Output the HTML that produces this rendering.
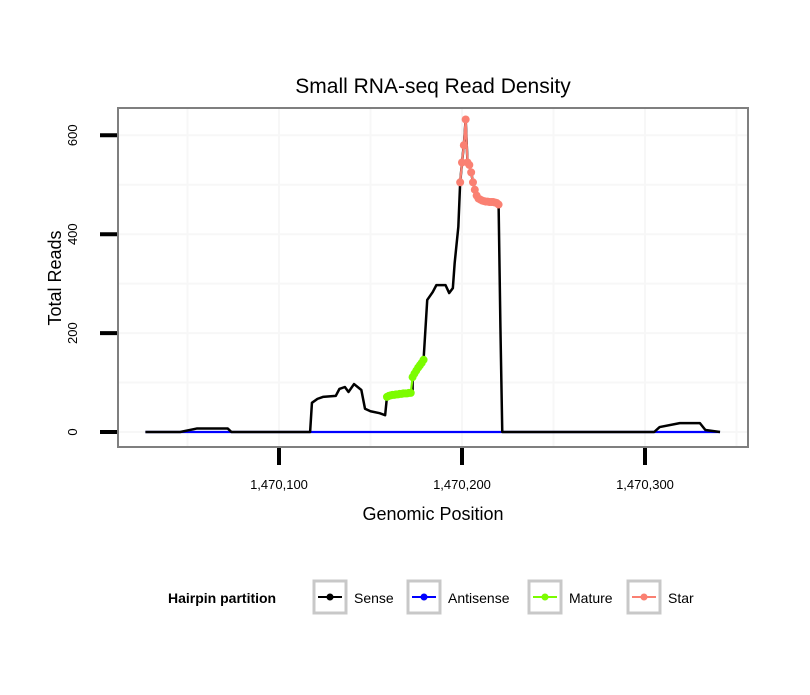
<!DOCTYPE html>
<html><head><meta charset="utf-8"><style>
body{margin:0;background:#fff;font-family:"Liberation Sans",sans-serif}
</style></head><body>
<svg width="810" height="690" xmlns="http://www.w3.org/2000/svg" font-family="Liberation Sans, sans-serif">
<rect width="810" height="690" fill="#fff"/>
<text x="433" y="93" font-size="21" text-anchor="middle">Small RNA-seq Read Density</text>
<g id="grid"></g>
<g id="marks"></g>
<rect x="118" y="108" width="630" height="339" fill="none" stroke="#7f7f7f" stroke-width="2"/>
<g id="axes"></g>
<text x="433" y="520" font-size="18" text-anchor="middle">Genomic Position</text>
<text transform="translate(61,278) rotate(-90)" font-size="18" text-anchor="middle">Total Reads</text>
<g font-size="14">
<text x="168" y="603" font-weight="bold">Hairpin partition</text>
<g><rect x="314" y="581" width="32" height="32" fill="#fff" stroke="#c8c8c8" stroke-width="3"/><line x1="318" y1="597" x2="342" y2="597" stroke="#000" stroke-width="2"/><circle cx="330" cy="597" r="3.5" fill="#000"/><text x="354" y="603">Sense</text></g>
<g><rect x="408" y="581" width="32" height="32" fill="#fff" stroke="#c8c8c8" stroke-width="3"/><line x1="412" y1="597" x2="436" y2="597" stroke="#0000ff" stroke-width="2"/><circle cx="424" cy="597" r="3.5" fill="#0000ff"/><text x="448" y="603">Antisense</text></g>
<g><rect x="529" y="581" width="32" height="32" fill="#fff" stroke="#c8c8c8" stroke-width="3"/><line x1="533" y1="597" x2="557" y2="597" stroke="#7cfc00" stroke-width="2"/><circle cx="545" cy="597" r="3.5" fill="#7cfc00"/><text x="569" y="603">Mature</text></g>
<g><rect x="628" y="581" width="32" height="32" fill="#fff" stroke="#c8c8c8" stroke-width="3"/><line x1="632" y1="597" x2="656" y2="597" stroke="#fa8072" stroke-width="2"/><circle cx="644" cy="597" r="3.5" fill="#fa8072"/><text x="668" y="603">Star</text></g>
</g>
</svg>
<script>
const senseX=[1470027,1470046,1470055,1470072,1470074,1470117,1470118,1470121,1470124,1470131,1470133,1470136,1470138,1470141,1470145,1470147,1470150,1470155,1470158,1470159,1470173,1470173,1470179,1470181,1470184,1470186,1470191,1470193,1470195,1470196,1470198,1470199,1470200,1470201,1470202,1470203,1470204,1470205,1470206,1470208,1470211,1470220,1470221,1470222,1470305,1470308,1470319,1470330,1470333,1470341];
const senseY=[0,0,7,7,0,0,59,67,71,73,87,91,81,97,85,47,42,38,34,71,79,111,146,267,283,297,297,281,291,342,415,505,545,580,632,545,540,525,505,478,468,460,210,0,0,10,18,18,4,0];
const antiX=[1470027,1470341];
const antiY=[0,0];
const matureX=[1470159,1470160,1470161,1470162,1470163,1470164,1470165,1470166,1470167,1470168,1470169,1470170,1470171,1470172,1470173,1470174,1470175,1470176,1470177,1470178,1470179];
const matureY=[71,73,74,75,75,76,76,77,77,78,78,78,79,79,111,118,124,130,135,140,146];
const starX=[1470199,1470200,1470201,1470202,1470203,1470204,1470205,1470206,1470207,1470208,1470209,1470210,1470211,1470212,1470213,1470214,1470215,1470216,1470217,1470218,1470219,1470220];
const starY=[505,545,580,632,545,540,525,505,490,478,472,470,468,467,466,466,465,465,465,464,463,460];
const xTicks=[1470100,1470200,1470300];
const xTickLabels=["1,470,100","1,470,200","1,470,300"];
const yTicks=[0,200,400,600];
const yTickLabels=["0","200","400","600"];
const NS="http://www.w3.org/2000/svg";
const xs=v=>279+(v-1470100)*1.83;
const ys=v=>432-v*0.4945;
function mk(tag,attrs,parent){const e=document.createElementNS(NS,tag);for(const k in attrs)e.setAttribute(k,attrs[k]);parent.appendChild(e);return e;}
const grid=document.getElementById('grid'),marks=document.getElementById('marks'),axes=document.getElementById('axes');
for(let v=1470050;v<=1470350;v+=50){const l=mk('line',{x1:xs(v),x2:xs(v),y1:108,y2:447,stroke:'#f7f7f7','stroke-width':2},grid);

}
for(let v=0;v<=600;v+=100){const l=mk('line',{x1:118,x2:748,y1:ys(v),y2:ys(v),stroke:'#f7f7f7','stroke-width':2},grid);

}
function series(X,Y,color,name,dots,w){
const p=mk('polyline',{points:X.map((x,i)=>xs(x)+','+ys(Y[i])).join(' '),fill:'none',stroke:color,'stroke-width':w,'stroke-linejoin':'round'},marks);


if(dots)X.forEach((x,i)=>{const c=mk('circle',{cx:xs(x),cy:ys(Y[i]),r:4,fill:color},marks);

});}
series(antiX,antiY,'#0000ff','antisense',false,2.2);
series(senseX,senseY,'#000','sense',false,2.5);
series(matureX,matureY,'#7cfc00','mature',true,2.2);
series(starX,starY,'#fa8072','star',true,2.2);
xTicks.forEach((v,i)=>{const t=mk('line',{x1:xs(v),x2:xs(v),y1:448,y2:465,stroke:'#000','stroke-width':4},axes);


const tx=mk('text',{x:xs(v),y:489,'font-size':13,'text-anchor':'middle'},axes);tx.textContent=xTickLabels[i];

});
yTicks.forEach((v,i)=>{const t=mk('line',{x1:100,x2:117,y1:ys(v),y2:ys(v),stroke:'#000','stroke-width':4},axes);


const tx=mk('text',{transform:`translate(77,${ys(v)}) rotate(-90)`,'font-size':13,'text-anchor':'middle'},axes);tx.textContent=yTickLabels[i];

});
</script>
</body></html>
